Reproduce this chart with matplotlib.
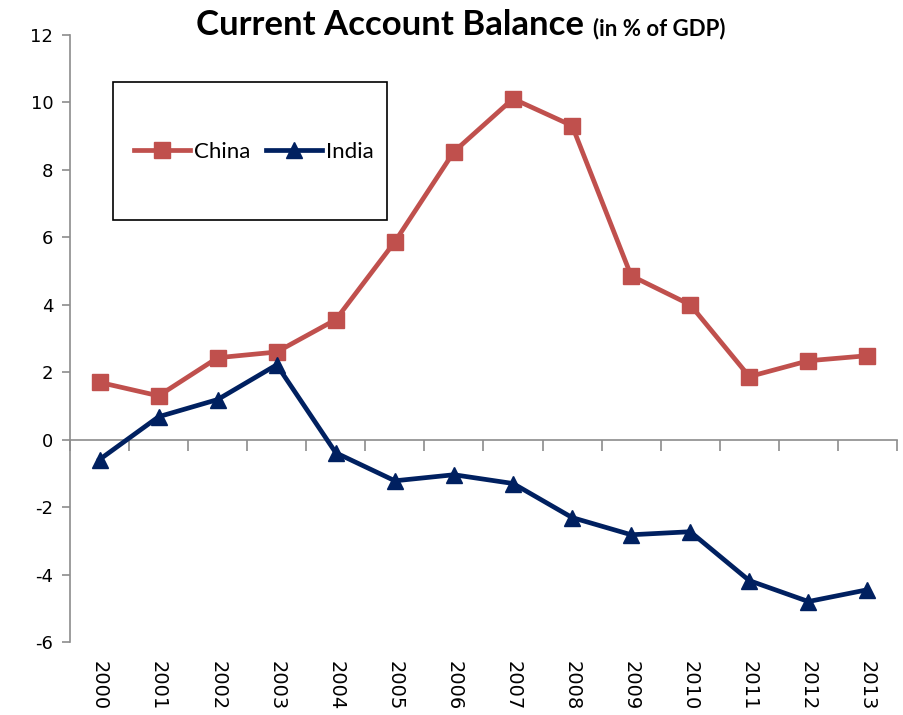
import numpy as np
import matplotlib
matplotlib.use("Agg")
import matplotlib.pyplot as plt
from matplotlib.patches import Rectangle

# データ
years = ["2000", "2001", "2002", "2003", "2004", "2005", "2006",
         "2007", "2008", "2009", "2010", "2011", "2012", "2013"]
china = [1.7, 1.3, 2.43, 2.6, 3.56, 5.87, 8.54, 10.11, 9.31, 4.86, 4.0, 1.87, 2.34, 2.49]
india = [-0.59, 0.68, 1.19, 2.22, -0.39, -1.22, -1.04, -1.3, -2.31, -2.82, -2.73, -4.18, -4.8, -4.45]
yticks = [-6, -4, -2, 0, 2, 4, 6, 8, 10, 12]

gray = "#8c8c8c"
fig = plt.figure(figsize=(9.04, 7.15), dpi=100)
ax = fig.add_axes([70/904, 1-642/715, 827/904, 607/715])

x = np.arange(len(years))
ax.plot(x, china, color="#C0504D", lw=3.4, marker="s", ms=12, label="China")
ax.plot(x, india, color="#002060", lw=3.4, marker="^", ms=12, label="India")

ax.set_xlim(-0.5, len(years) - 0.5)
ax.set_ylim(-6, 12)
ax.set_yticks(yticks)
ax.set_yticklabels([str(v) for v in yticks], fontsize=13, family="DejaVu Sans")
ax.tick_params(axis="y", length=6, color=gray, width=1.2, pad=6)

# x labels at bottom, rotated
ax.set_xticks(x)
ax.set_xticklabels(years, rotation=270, fontsize=14, family="DejaVu Sans", va="top")
ax.tick_params(axis="x", length=0, pad=14)

for s in ["top", "right", "bottom"]:
    ax.spines[s].set_visible(False)
ax.spines["left"].set_color(gray)
ax.spines["left"].set_linewidth(1.2)

# zero line with category boundary ticks
sec = ax.secondary_xaxis(1/3)
sec.set_xticks(np.arange(len(years) + 1) - 0.5)
sec.xaxis.set_ticklabels([])
sec.xaxis.set_ticks_position("bottom")
sec.tick_params(axis="x", direction="out", length=8, color=gray, width=1.2)
sec.spines["bottom"].set_color(gray)
sec.spines["bottom"].set_linewidth(1.2)
for s in ["top", "left", "right"]:
    sec.spines[s].set_visible(False)

# legend
ax.add_patch(Rectangle((43/827, (642-220)/607), 274/827, 138/607, transform=ax.transAxes,
                       fill=False, edgecolor="black", lw=1.2, zorder=5))
ax.legend(loc="center", bbox_to_anchor=(0.2225, 0.807), ncol=2, frameon=False,
          prop={"family": "Lato", "size": 16}, handlelength=2.5, columnspacing=0.7,
          handletextpad=0.2, borderaxespad=0)

# title
t1 = fig.text(196/904, 1-35/715, "Current Account Balance", fontsize=25, fontweight="bold",
              family="Lato", ha="left", va="baseline")
fig.canvas.draw()
bb = t1.get_window_extent()
fig.text(bb.x1/904 + 9/904, 1-35/715, "(in % of GDP)", fontsize=16, fontweight="bold",
         family="Lato", ha="left", va="baseline")

fig.savefig("out.png", dpi=100)
